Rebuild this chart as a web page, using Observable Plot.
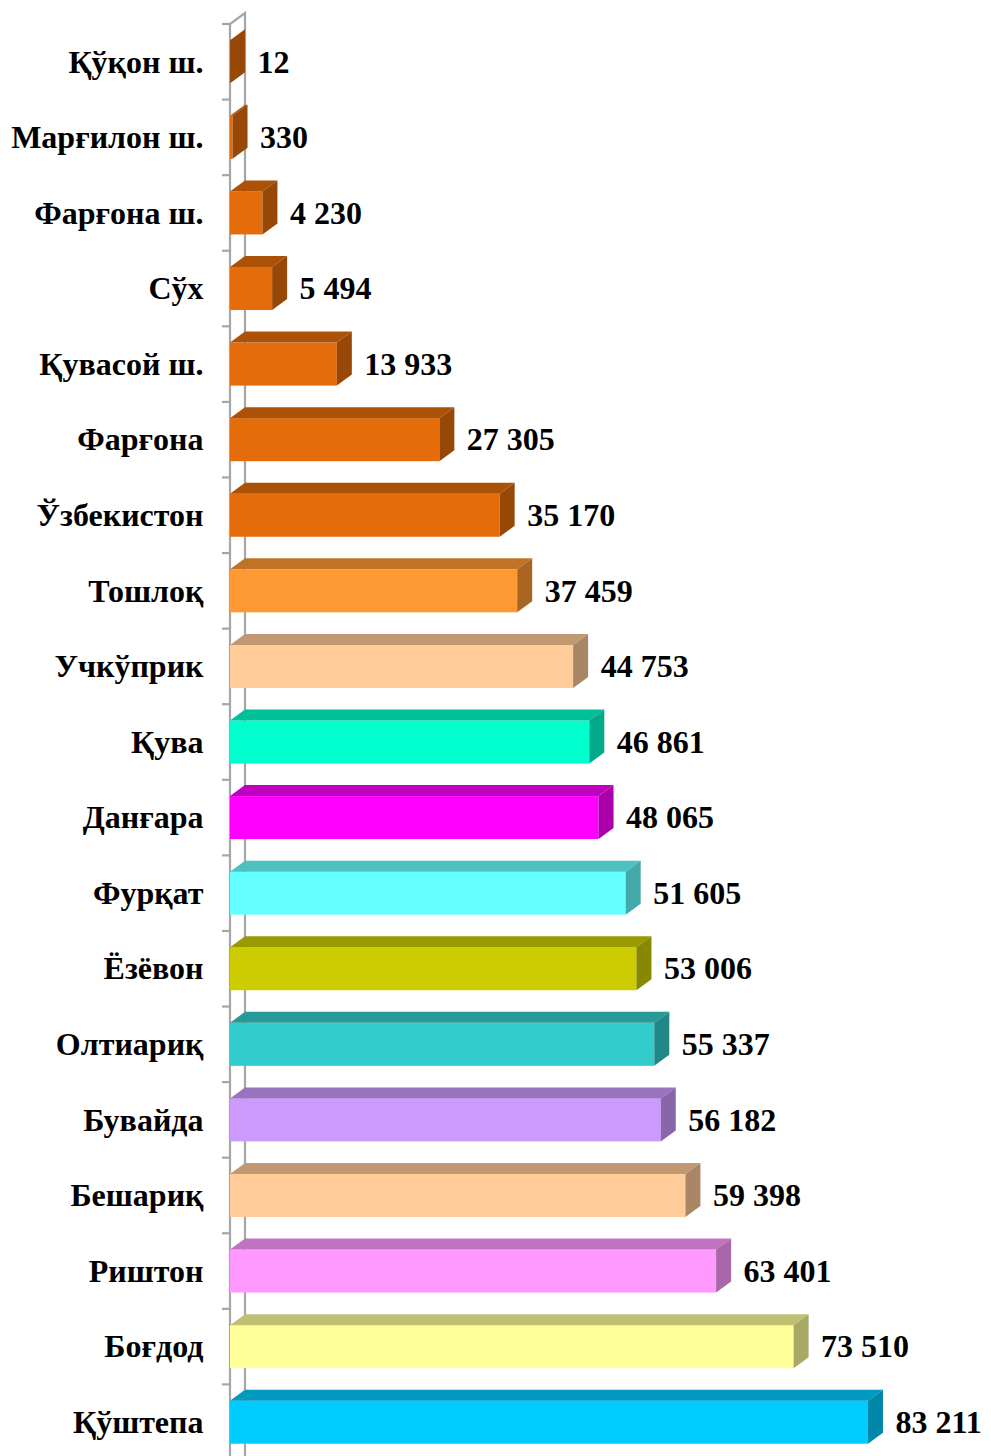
<!DOCTYPE html>
<html><head><meta charset="utf-8">
<script src="https://cdn.jsdelivr.net/npm/d3@7"></script>
<script src="https://cdn.jsdelivr.net/npm/@observablehq/plot@0.6"></script>
<style>body{margin:0;background:#fff}</style>
</head><body><div id="chart"></div>
<script>
const districts = ["Қўқон ш.", "Марғилон ш.", "Фарғона ш.", "Сўх", "Қувасой ш.", "Фарғона", "Ўзбекистон", "Тошлоқ", "Учкўприк", "Қува", "Данғара", "Фурқат", "Ёзёвон", "Олтиариқ", "Бувайда", "Бешариқ", "Риштон", "Боғдод", "Қўштепа"];
const values = [12, 330, 4230, 5494, 13933, 27305, 35170, 37459, 44753, 46861, 48065, 51605, 53006, 55337, 56182, 59398, 63401, 73510, 83211];
const colors = ["#E46C0A", "#E46C0A", "#E46C0A", "#E46C0A", "#E46C0A", "#E46C0A", "#E46C0A", "#FF9933", "#FFCC99", "#00FFCC", "#FF00FF", "#66FFFF", "#CCCC00", "#33CCCC", "#CC99FF", "#FFCC99", "#FF99FF", "#FFFF99", "#00CCFF"];

const rows = districts.map((name, i) => ({name, value: values[i], color: colors[i]}));
const fmt = v => d3.format(",")(v).replace(/,/g, " ");

const FACE_H = 43, DX = 15, DY = 11;

function bandInfo(y) {
  return typeof y.bandwidth === "function" ? y.bandwidth() : (y(districts[1]) - y(districts[0]));
}

// 3D top and side faces, drawn through Plot's scales
function faces(index, scales) {
  const x = scales.x, y = scales.y;
  const bw = bandInfo(y);
  const g = d3.create("svg:g");
  rows.forEach(r => {
    const x0 = x(0), x1 = x(r.value);
    const yc = y(r.name) + bw / 2;
    const t = yc - FACE_H / 2, b = yc + FACE_H / 2;
    const c = d3.color(r.color);
    g.append("path")
      .attr("d", `M${x0},${t}L${x1},${t}L${x1 + DX},${t - DY}L${x0 + DX},${t - DY}Z`)
      .attr("fill", c.darker(0.8).formatHex());
    g.append("path")
      .attr("d", `M${x1},${t}L${x1 + DX},${t - DY}L${x1 + DX},${b - DY}L${x1},${b}Z`)
      .attr("fill", c.darker(1.15).formatHex());
  });
  return g.node();
}

// wall lines and boundary ticks
function wall(index, scales, values, dimensions) {
  const x = scales.x, y = scales.y;
  const x0 = x(0);
  const top = y(districts[0]);
  const H = dimensions.height;
  const g = d3.create("svg:g").attr("fill", "none").attr("stroke", "#A6A6A6").attr("stroke-width", 2.2);
  g.append("path").attr("d", `M${x0},${H}L${x0},${top}L${x0 + DX},${top - DY}L${x0 + DX},${H}`);
  districts.forEach(d => {
    const yy = y(d);
    g.append("path").attr("d", `M${x0 - 8},${yy}L${x0},${yy}`);
  });
  return g.node();
}

const chart = Plot.plot({
  width: 991,
  height: 1456,
  marginLeft: 230,
  marginRight: 0,
  marginTop: 0,
  marginBottom: 0,
  style: {fontFamily: "'Liberation Serif', 'Times New Roman', serif", fontWeight: "bold", fontSize: "32px", color: "#000", background: "#fff"},
  x: {domain: [0, 83211], range: [230, 868], axis: null},
  y: {domain: districts, range: [24, 1460], padding: 0, round: false},
  marks: [
    wall,
    Plot.barX(rows, {x: "value", y: "name", fill: "color", insetTop: (75.58 - FACE_H) / 2, insetBottom: (75.58 - FACE_H) / 2}),
    faces,
    Plot.axisY({anchor: "left", label: null, tickSize: 0, tickPadding: 27, fontSize: 32, fontWeight: "bold", fill: "#000"}),
    Plot.text(rows, {x: "value", y: "name", text: d => fmt(d.value), textAnchor: "start", dx: 27, fontSize: 32, fontWeight: "bold", fill: "#000"})
  ]
});
document.getElementById("chart").appendChild(chart);
</script>
</body></html>
